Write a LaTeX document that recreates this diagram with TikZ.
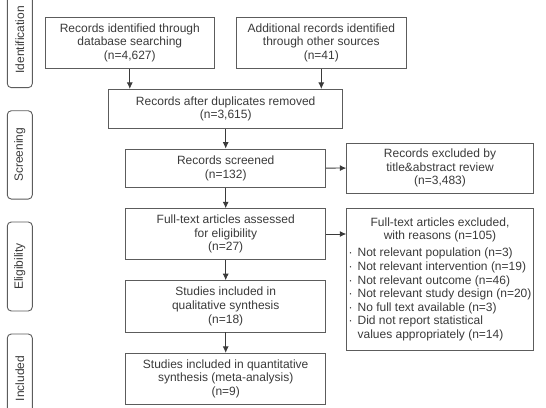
\documentclass[tikz,border=0pt]{standalone}
\usepackage{fontspec}
\setmainfont{Liberation Sans}
\usepackage{xcolor}
\usetikzlibrary{arrows.meta, positioning}
\definecolor{inkgray}{HTML}{3A3A3A}
\definecolor{framegray}{HTML}{5C5C5C}
\newcommand{\reason}{\makebox[9pt][l]{·}}

\begin{document}
\begin{tikzpicture}[
    x=1pt, y=-1pt,
    font=\fontsize{12}{13.6}\selectfont, text=inkgray,
    box/.style = {rectangle, draw=framegray, line width=0.9pt, align=center, inner sep=1pt},
    stage/.style = {rectangle, draw=framegray, line width=0.9pt, rounded corners=4pt, rotate=90, minimum height=25pt, inner sep=0pt},
    line/.style = {draw=inkgray, line width=0.8pt, -{Latex[length=6.5pt,width=6pt]}}
]
    \useasboundingbox (0,0) rectangle (546,407);
    \clip (0,0) rectangle (546,407);

    % Stage tabs
    \node [stage, minimum width=95.7pt] (identification) at (19.8, 39.8) {Identification};
    \node [stage, minimum width=88.3pt] (screening) at (19.8, 154.9) {Screening};
    \node [stage, minimum width=89pt] (eligibility) at (19.8, 266.5) {Eligibility};
    \node [stage, minimum width=89pt] (included) at (19.8, 378.5) {Included};

    % Identification
    \node [box, minimum width=169pt, minimum height=51pt] (database) at (129.8, 42.8) {Records identified through\\database searching\\(n=4,627)};
    \node [box, minimum width=170pt, minimum height=51pt] (other) at (321.3, 42.8) {Additional records identified\\through other sources\\(n=41)};
    \node [box, minimum width=234pt, minimum height=38.7pt] (duplicates) at (225.7, 108.7) {Records after duplicates removed\\(n=3,615)};

    % Screening
    \node [box, minimum width=200pt, minimum height=38.3pt] (screened) at (225.7, 168.2) {Records screened\\(n=132)};
    \node [box, minimum width=186.6pt, minimum height=50pt] (excluded) at (440, 168) {Records excluded by\\title\&abstract review\\(n=3,483)};

    % Eligibility
    \node [box, minimum width=200pt, minimum height=50.6pt] (fulltext) at (225.7, 234) {Full-text articles assessed\\for eligibility\\(n=27)};
    \node [box, minimum width=186.6pt, minimum height=142pt] (reasons) at (440, 279.7) {%
        \begin{tabular}{@{}l@{}}
        \multicolumn{1}{@{}c@{}}{Full-text articles excluded,}\\
        \multicolumn{1}{@{}c@{}}{with reasons (n=105)}\\[3.5pt]
        \reason Not relevant population (n=3)\\
        \reason Not relevant intervention (n=19)\\
        \reason Not relevant outcome (n=46)\\
        \reason Not relevant study design (n=20)\\
        \reason No full text available (n=3)\\
        \reason Did not report statistical\\
        \hspace*{9pt}values appropriately (n=14)
        \end{tabular}};
    \node [box, minimum width=200pt, minimum height=51.3pt] (qualitative) at (225.7, 306.3) {Studies included in\\qualitative synthesis\\(n=18)};

    % Included
    \node [box, minimum width=200pt, minimum height=51pt] (quantitative) at (225.7, 378.8) {Studies included in quantitative\\synthesis (meta-analysis)\\(n=9)};

    % Arrows
    \draw [line] (database) -- (database |- duplicates.north);
    \draw [line] (other) -- (other |- duplicates.north);
    \draw [line] (duplicates) -- (screened);
    \draw [line] (screened) -- (fulltext);
    \draw [line] (fulltext) -- (qualitative);
    \draw [line] (qualitative) -- (quantitative);
    \draw [line] (screened) -- (excluded);
    \draw [line] (fulltext.east) -- (fulltext.east -| reasons.west);
\end{tikzpicture}
\end{document}
